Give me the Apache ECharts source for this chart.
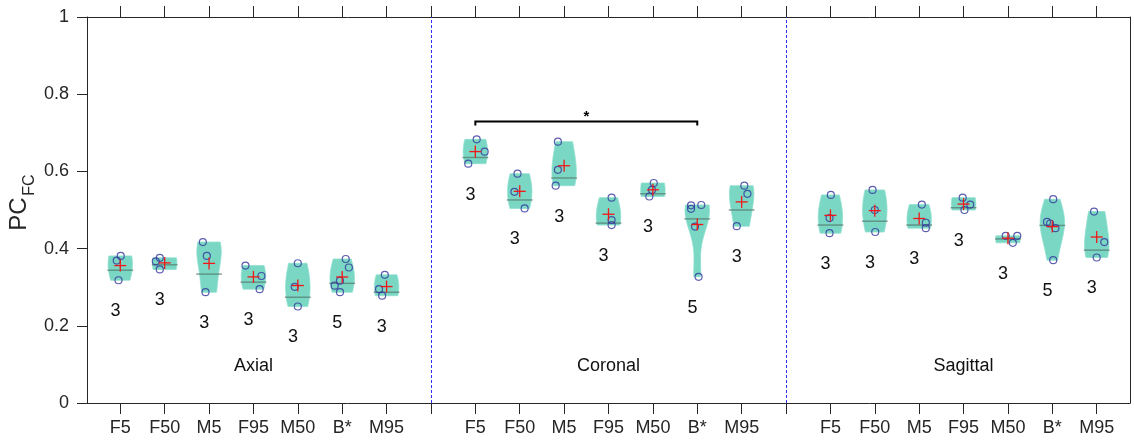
<!DOCTYPE html>
<html><head><meta charset="utf-8">
<script src="https://cdn.jsdelivr.net/npm/echarts@6/dist/echarts.min.js"></script>
<style>html,body{margin:0;padding:0;background:#fff}#c{width:1134px;height:445px}</style>
</head><body><div id="c"></div>
<script>
// ---------------- data ----------------
const categories = ['F5', 'F50', 'M5', 'F95', 'M50', 'B*', 'M95'];
const sections = ['Axial', 'Coronal', 'Sagittal'];

const axialPoints = [
  [0.381, 0.369, 0.318],
  [0.376, 0.367, 0.346],
  [0.417, 0.381, 0.287],
  [0.356, 0.329, 0.295],
  [0.362, 0.301, 0.250],
  [0.373, 0.351, 0.317, 0.304, 0.287],
  [0.332, 0.295, 0.278]
];
const coronalPoints = [
  [0.683, 0.651, 0.620],
  [0.594, 0.547, 0.504],
  [0.677, 0.604, 0.563],
  [0.532, 0.474, 0.461],
  [0.570, 0.552, 0.535],
  [0.513, 0.512, 0.503, 0.457, 0.327],
  [0.563, 0.542, 0.458]
];
const sagittalPoints = [
  [0.539, 0.479, 0.440],
  [0.552, 0.500, 0.443],
  [0.514, 0.467, 0.453],
  [0.532, 0.514, 0.500],
  [0.433, 0.433, 0.415],
  [0.528, 0.469, 0.465, 0.453, 0.370],
  [0.496, 0.417, 0.377]
];
// horizontal jitter of each dot (x-axis units)
const axialJitter = [
  [0.01, -0.08, -0.04], [-0.11, -0.20, -0.11], [-0.14, -0.05, -0.08], [-0.18, 0.18, 0.14],
  [0.00, -0.07, 0.00], [0.08, 0.15, -0.05, -0.17, -0.05], [-0.04, -0.17, -0.10]
];
const coronalJitter = [
  [0.03, 0.21, -0.16], [-0.05, -0.12, 0.11], [-0.14, -0.14, -0.19], [0.07, 0.07, 0.07],
  [0.02, -0.02, -0.08], [0.09, -0.14, -0.14, -0.05, 0.03], [0.06, 0.13, -0.11]
];
const sagittalJitter = [
  [0.01, -0.02, -0.02], [-0.05, 0.00, 0.01], [0.06, 0.15, 0.15], [-0.02, 0.15, 0.02],
  [-0.05, 0.21, 0.11], [0.02, -0.12, -0.05, 0.07, 0.02], [-0.06, 0.17, 0.00]
];
// grey centre line of each violin
const axialMedian = [0.344, 0.358, 0.334, 0.313, 0.274, 0.310, 0.287];
const coronalMedian = [0.636, 0.526, 0.583, 0.466, 0.542, 0.477, 0.500];
const sagittalMedian = [0.461, 0.471, 0.461, 0.506, 0.425, 0.460, 0.396];
// n labels
const axialCounts = [3, 3, 3, 3, 3, 5, 3];
const coronalCounts = [3, 3, 3, 3, 3, 5, 3];
const sagittalCounts = [3, 3, 3, 3, 3, 5, 3];
// significance bracket (Coronal F5 vs Coronal B*)
const sigFrom = 9, sigTo = 14, sigLevel = 0.729, sigLabel = '*';
const yTicks = [0, 0.2, 0.4, 0.6, 0.8, 1];

// ---------------- build ----------------
const FONT = 'Liberation Sans, Arial, Helvetica, sans-serif';
const AX = '#262626';
const allPts = [axialPoints, coronalPoints, sagittalPoints];
const allJit = [axialJitter, coronalJitter, sagittalJitter];
const allMed = [axialMedian, coronalMedian, sagittalMedian];
const allCnt = [axialCounts, coronalCounts, sagittalCounts];
const groups = [];
for (let s = 0; s < 3; s++) {
  for (let c = 0; c < categories.length; c++) {
    groups.push({ x: s * 8 + c + 1, pts: allPts[s][c], jit: allJit[s][c], med: allMed[s][c], n: allCnt[s][c] });
  }
}
const tickVals = []; for (let i = 1; i <= 23; i++) tickVals.push(i);
const labelVals = tickVals.filter(v => v % 8 !== 0);

const BW = 0.05, HALF = 0.275, LINEHALF = 0.29;
function dens(pts, y) { let d = 0; for (const p of pts) { const u = (y - p) / BW; d += Math.exp(-0.5 * u * u); } return d; }

function renderViolin(params, api) {
  const g = groups[params.dataIndex];
  const lo = Math.min(...g.pts), hi = Math.max(...g.pts);
  let maxd = 0;
  for (let k = 0; k <= 200; k++) { const y = lo - 3 * BW + (hi - lo + 6 * BW) * k / 200; maxd = Math.max(maxd, dens(g.pts, y)); }
  const N = 40, right = [], left = [];
  for (let k = 0; k <= N; k++) {
    const y = lo + (hi - lo) * k / N;
    const w = HALF * dens(g.pts, y) / maxd;
    right.push(api.coord([g.x + w, y]));
    left.push(api.coord([g.x - w, y]));
  }
  const poly = right.concat(left.reverse());
  const a = api.coord([g.x - LINEHALF, g.med]), b = api.coord([g.x + LINEHALF, g.med]);
  return { type: 'group', children: [
    { type: 'polygon', shape: { points: poly }, style: { fill: '#79d7c3', stroke: '#8fe0cf', lineWidth: 0.8 } },
    { type: 'line', shape: { x1: a[0], y1: a[1], x2: b[0], y2: b[1] }, style: { stroke: 'rgba(85,120,110,0.75)', lineWidth: 1.4 } }
  ] };
}
function renderMean(params, api) {
  const g = groups[params.dataIndex];
  const m = g.pts.reduce((s, v) => s + v, 0) / g.pts.length;
  const p = api.coord([g.x, m]);
  const h = 6;
  return { type: 'group', children: [
    { type: 'line', shape: { x1: p[0] - h, y1: p[1], x2: p[0] + h, y2: p[1] }, style: { stroke: '#f01818', lineWidth: 1.3 } },
    { type: 'line', shape: { x1: p[0], y1: p[1] - h, x2: p[0], y2: p[1] + h }, style: { stroke: '#f01818', lineWidth: 1.3 } }
  ] };
}
function renderCount(params, api) {
  const g = groups[params.dataIndex];
  const lo = Math.min(...g.pts);
  const p = api.coord([g.x - 0.11, lo - 0.08]);
  return { type: 'text', x: p[0], y: p[1], style: { text: String(g.n), fill: '#111', font: '18px ' + FONT, align: 'center', verticalAlign: 'middle' } };
}
function renderSection(params, api) {
  const p = api.coord([params.dataIndex * 8 + 4, 0.095]);
  return { type: 'text', x: p[0], y: p[1], style: { text: sections[params.dataIndex], fill: '#111', font: '18px ' + FONT, align: 'center', verticalAlign: 'middle' } };
}
function renderDivider(params, api) {
  const xv = (params.dataIndex + 1) * 8;
  const a = api.coord([xv, 0]), b = api.coord([xv, 1]);
  const px = Math.round(a[0]) + 0.5;
  return { type: 'line', shape: { x1: px, y1: a[1], x2: px, y2: b[1] }, style: { stroke: '#2f2fff', lineWidth: 1, lineDash: [3, 2] } };
}
function renderBracket(params, api) {
  const a = api.coord([sigFrom, sigLevel]), b = api.coord([sigTo, sigLevel]);
  const t = api.coord([(sigFrom + sigTo) / 2, sigLevel]);
  return { type: 'group', children: [
    { type: 'polyline', shape: { points: [[a[0], a[1] + 4], [a[0], a[1]], [b[0], b[1]], [b[0], b[1] + 4]] }, style: { stroke: '#000', lineWidth: 2, fill: null } },
    { type: 'text', x: t[0], y: t[1] + 3, style: { text: sigLabel, fill: '#000', font: 'bold 15px ' + FONT, align: 'center', verticalAlign: 'bottom' } }
  ] };
}

const scatterData = [];
groups.forEach(g => g.pts.forEach((v, i) => scatterData.push([g.x + g.jit[i], v])));

const chart = echarts.init(document.getElementById('c'), null, { renderer: 'canvas' });
chart.setOption({
  animation: false,
  backgroundColor: '#fff',
  grid: { left: 87, top: 17, width: 1043, height: 386, containLabel: false },
  xAxis: [{
    type: 'value', position: 'bottom', min: 0.25, max: 23.75,
    axisLine: { show: true, onZero: false, lineStyle: { color: AX, width: 1 } },
    axisTick: { show: true, inside: false, length: 11, customValues: tickVals, lineStyle: { color: AX } },
    axisLabel: { show: true, customValues: labelVals, formatter: v => categories[(Math.round(v) - 1) % 8], margin: 16, color: AX, fontSize: 18, fontFamily: FONT },
    splitLine: { show: false }
  }, {
    type: 'value', position: 'top', min: 0.25, max: 23.75,
    axisLine: { show: true, onZero: false, lineStyle: { color: AX, width: 1 } },
    axisTick: { show: true, inside: false, length: 11, customValues: tickVals, lineStyle: { color: AX } },
    axisLabel: { show: false }, splitLine: { show: false }
  }],
  yAxis: [{
    type: 'value', min: 0, max: 1,
    axisLine: { show: true, onZero: false, lineStyle: { color: AX, width: 1 } },
    axisTick: { show: true, inside: false, length: 10, customValues: yTicks, lineStyle: { color: AX } },
    axisLabel: { show: true, customValues: yTicks, formatter: v => String(Math.round(v * 10) / 10), margin: 18, color: AX, fontSize: 18, fontFamily: FONT },
    splitLine: { show: false }
  }, {
    type: 'value', position: 'right', min: 0, max: 1,
    axisLine: { show: true, onZero: false, lineStyle: { color: AX, width: 1 } },
    axisTick: { show: false }, axisLabel: { show: false }, splitLine: { show: false }
  }],
  graphic: [
    { type: 'text', x: 19, y: 214, rotation: Math.PI / 2, style: { text: 'PC', fill: AX, font: '24px ' + FONT, align: 'center', verticalAlign: 'middle' } },
    { type: 'text', x: 30, y: 185, rotation: Math.PI / 2, style: { text: 'FC', fill: AX, font: '16px ' + FONT, align: 'center', verticalAlign: 'middle' } }
  ],
  series: [
    { type: 'custom', name: 'dividers', renderItem: renderDivider, data: [[8, 0], [16, 0]], silent: true, z: 1 },
    { type: 'custom', name: 'violins', renderItem: renderViolin, data: groups.map(g => [g.x, g.med]), silent: true, z: 2 },
    { type: 'scatter', name: 'points', data: scatterData, symbol: 'circle', symbolSize: 7, silent: true, z: 3,
      itemStyle: { color: 'rgba(0,0,0,0)', borderColor: '#34349c', borderWidth: 1.2 } },
    { type: 'custom', name: 'means', renderItem: renderMean, data: groups.map(g => [g.x, g.med]), silent: true, z: 4 },
    { type: 'custom', name: 'counts', renderItem: renderCount, data: groups.map(g => [g.x, g.med]), silent: true, z: 4 },
    { type: 'custom', name: 'sections', renderItem: renderSection, data: sections.map((s, i) => [i * 8 + 4, 0.1]), silent: true, z: 4 },
    { type: 'custom', name: 'bracket', renderItem: renderBracket, data: [[sigFrom, sigLevel]], silent: true, z: 4 }
  ]
});
</script></body></html>
